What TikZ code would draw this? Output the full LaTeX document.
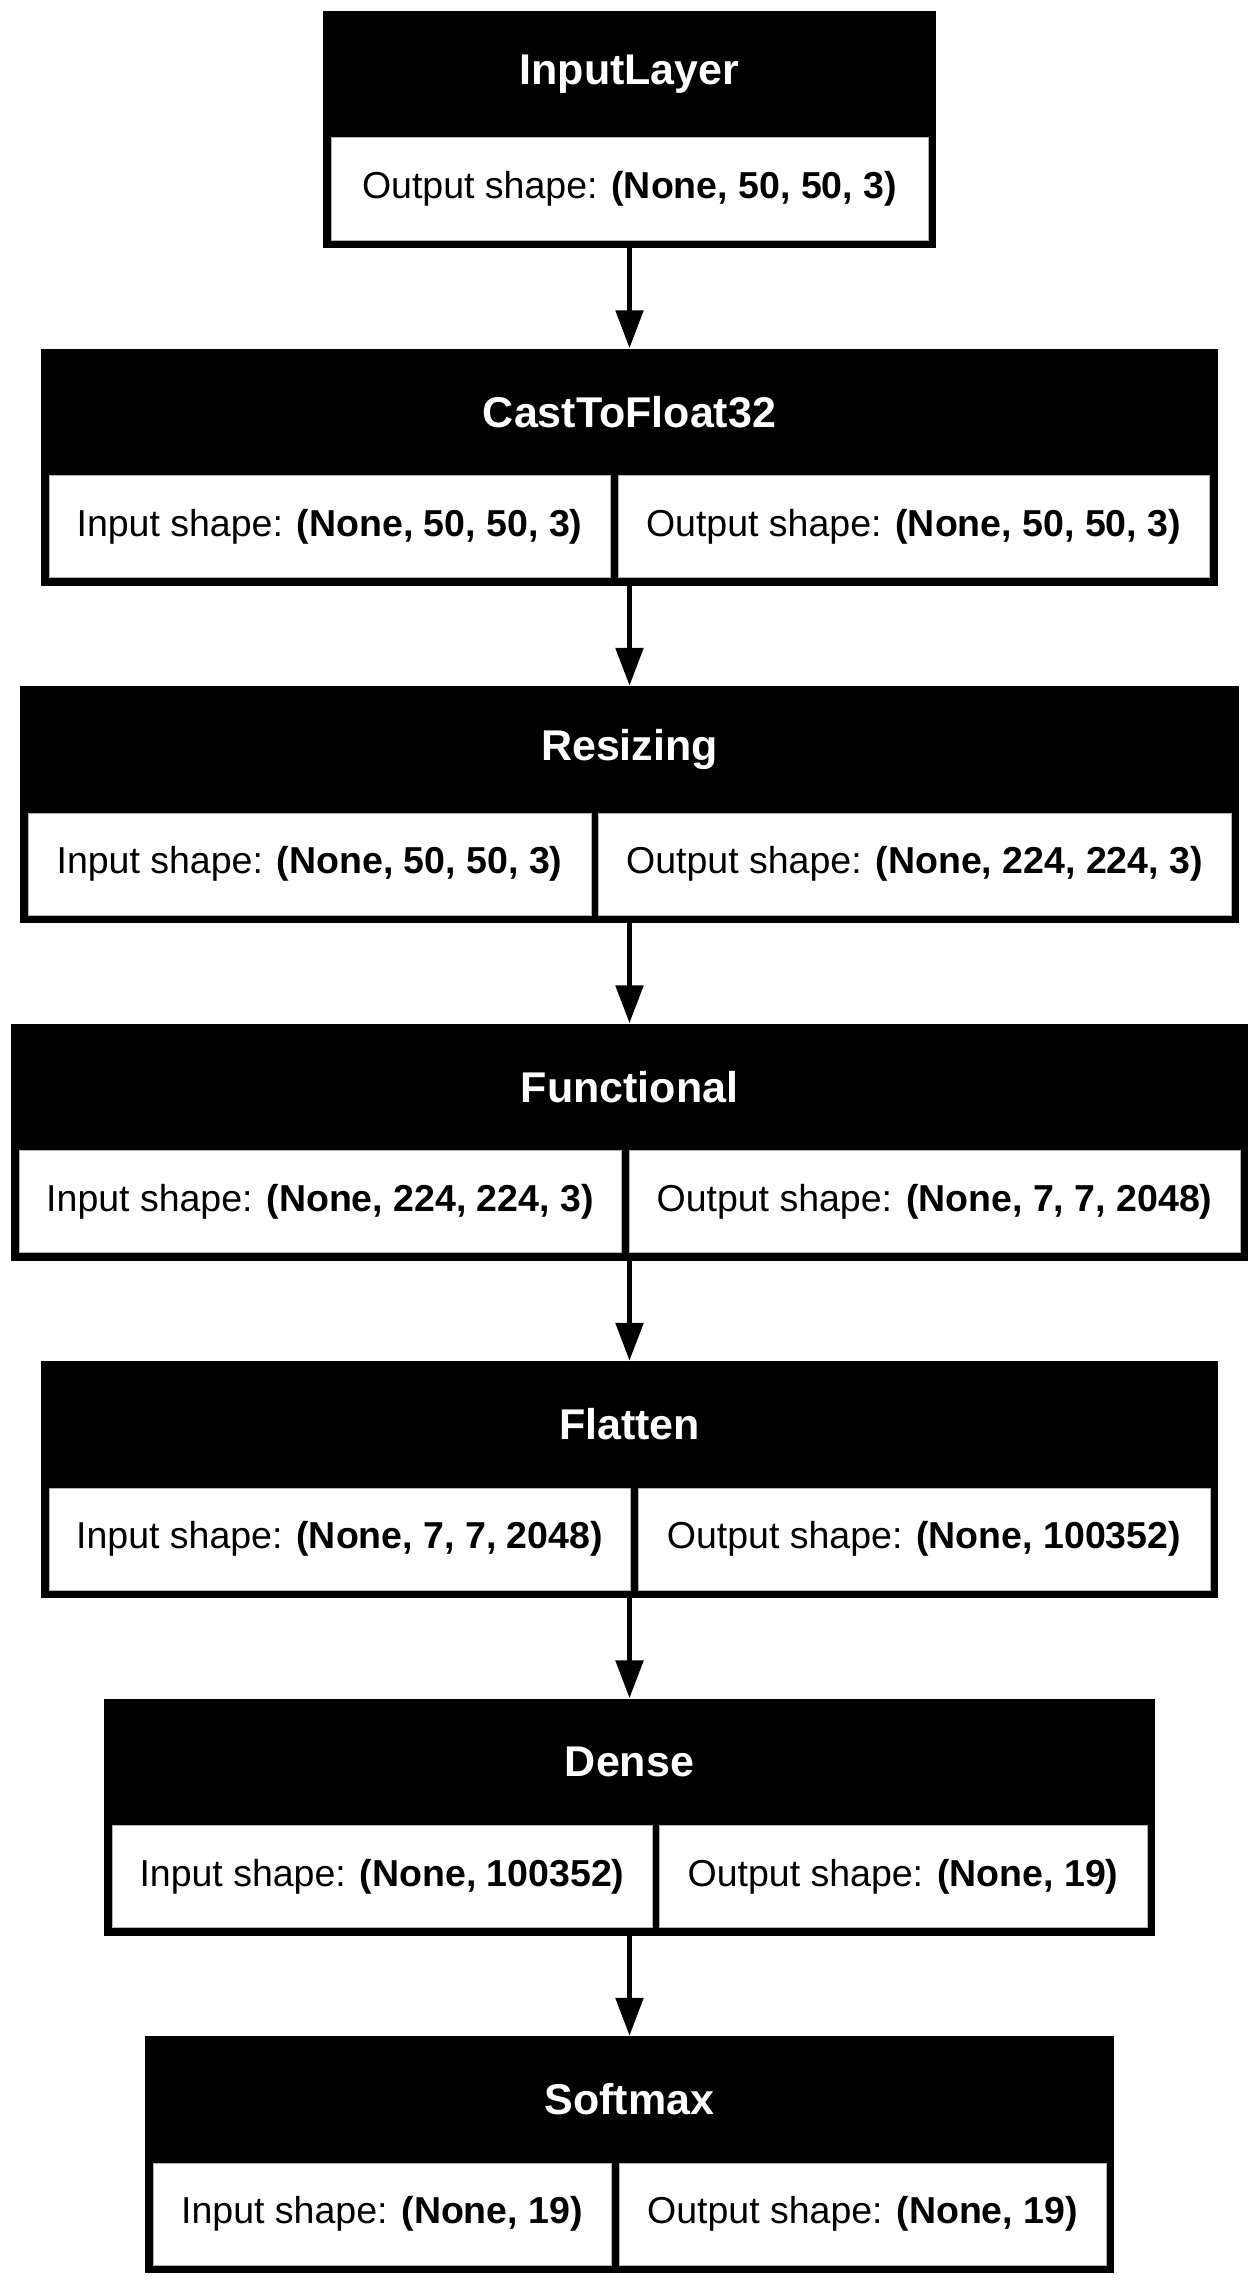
\documentclass[tikz,border=0pt]{standalone}
\usepackage{fontspec}
\setmainfont{Liberation Sans}
\usetikzlibrary{arrows.meta}

\begin{document}
\begin{tikzpicture} [
  x=1pt, y=1pt,
  layerbox/.style={fill=black,inner sep=0,minimum height=237pt},
  layername/.style={text=white,inner sep=0,font=\bfseries\fontsize{43}{52}\selectfont},
  cell/.style={fill=white,draw=gray!60,line width=1pt,inner sep=0,minimum height=102pt,font=\fontsize{37.5}{45}\selectfont},
  flowarrow/.style={line width=5.5pt,-{Triangle[length=38pt,width=27pt]}}
  ]
  \useasboundingbox (0,0) rectangle (1259,-2285);

  % InputLayer
  \node (l0) [layerbox,minimum width=613pt] at (629.5,-129.5) {};
  \node (l0t) [layername] at (629.5,-74.5) {InputLayer};
  \node (l0out) [cell,minimum width=597pt] at (629.5,-189) {Output shape: \textbf{(None, 50, 50, 3)}};

  % CastToFloat32
  \node (l1) [layerbox,minimum width=1177pt] at (629.5,-467) {};
  \node (l1t) [layername] at (629.5,-412) {CastToFloat32};
  \node (l1in) [cell,minimum width=561pt] at (329.5,-526.5) {Input shape: \textbf{(None, 50, 50, 3)}};
  \node (l1out) [cell,minimum width=591pt] at (913.5,-526.5) {Output shape: \textbf{(None, 50, 50, 3)}};

  % Resizing
  \node (l2) [layerbox,minimum width=1219pt] at (629.5,-804.5) {};
  \node (l2t) [layername] at (629.5,-749.5) {Resizing};
  \node (l2in) [cell,minimum width=563pt] at (309.5,-864) {Input shape: \textbf{(None, 50, 50, 3)}};
  \node (l2out) [cell,minimum width=633pt] at (914.5,-864) {Output shape: \textbf{(None, 224, 224, 3)}};

  % Functional
  \node (l3) [layerbox,minimum width=1237pt] at (629.5,-1142) {};
  \node (l3t) [layername] at (629.5,-1087) {Functional};
  \node (l3in) [cell,minimum width=602pt] at (320,-1201.5) {Input shape: \textbf{(None, 224, 224, 3)}};
  \node (l3out) [cell,minimum width=611pt] at (934.5,-1201.5) {Output shape: \textbf{(None, 7, 7, 2048)}};

  % Flatten
  \node (l4) [layerbox,minimum width=1177pt] at (629.5,-1479.5) {};
  \node (l4t) [layername] at (629.5,-1424.5) {Flatten};
  \node (l4in) [cell,minimum width=581pt] at (339.5,-1539) {Input shape: \textbf{(None, 7, 7, 2048)}};
  \node (l4out) [cell,minimum width=572pt] at (924,-1539) {Output shape: \textbf{(None, 100352)}};

  % Dense
  \node (l5) [layerbox,minimum width=1051pt] at (629.5,-1817) {};
  \node (l5t) [layername] at (629.5,-1762) {Dense};
  \node (l5in) [cell,minimum width=540pt] at (382,-1876.5) {Input shape: \textbf{(None, 100352)}};
  \node (l5out) [cell,minimum width=488pt] at (903,-1876.5) {Output shape: \textbf{(None, 19)}};

  % Softmax
  \node (l6) [layerbox,minimum width=969pt] at (629.5,-2154.5) {};
  \node (l6t) [layername] at (629.5,-2099.5) {Softmax};
  \node (l6in) [cell,minimum width=458pt] at (382,-2214) {Input shape: \textbf{(None, 19)}};
  \node (l6out) [cell,minimum width=487pt] at (862.5,-2214) {Output shape: \textbf{(None, 19)}};

  % edges
  \draw [flowarrow] (l0.south) -- (l1.north);
  \draw [flowarrow] (l1.south) -- (l2.north);
  \draw [flowarrow] (l2.south) -- (l3.north);
  \draw [flowarrow] (l3.south) -- (l4.north);
  \draw [flowarrow] (l4.south) -- (l5.north);
  \draw [flowarrow] (l5.south) -- (l6.north);
\end{tikzpicture}
\end{document}
